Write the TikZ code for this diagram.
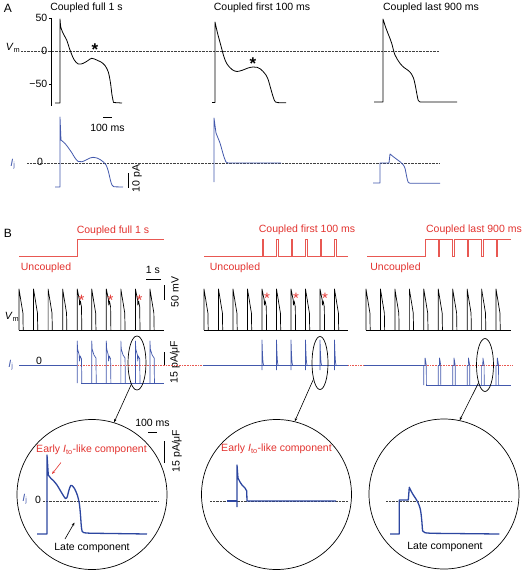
\documentclass[tikz,border=0pt]{standalone}
\usepackage{fontspec}
\setmainfont{Liberation Sans}
\usetikzlibrary{shapes.geometric,arrows.meta,calc}
\definecolor{myred}{RGB}{226,50,46}
\definecolor{stimred}{RGB}{232,88,82}
\definecolor{trblue}{RGB}{66,88,172}
\definecolor{cblue}{RGB}{44,70,160}
\tikzset{
 lbl/.style={font=\fontsize{10.5}{12}\selectfont, inner sep=0pt},
 redlbl/.style={lbl, text=myred},
 trace/.style={line width=0.8pt, line join=round},
 btrace/.style={line width=0.7pt, line join=round},
 itrace/.style={line width=0.7pt, line join=round, draw=trblue},
 atrace/.style={line width=0.8pt, line join=round, draw=trblue},
 ctrace/.style={line width=1.3pt, line join=round, draw=cblue},
 zeroline/.style={line width=0.5pt, draw=black!75, dash pattern=on 0.7pt off 0.7pt},
 reddots/.style={line width=0.5pt, draw=stimred, dash pattern=on 0.7pt off 0.9pt},
 stim/.style={line width=0.7pt, draw=stimred},
 scalebar/.style={line width=0.9pt},
 zoomcircle/.style={circle, draw, line width=0.7pt, minimum size=150pt, inner sep=0pt},
 zoomell/.style={ellipse, draw, line width=0.7pt, inner sep=0pt},
 link/.style={line width=0.6pt, -{Stealth[length=3.5pt,width=2.6pt]}},
 redarrow/.style={line width=0.6pt, draw=myred, -{Stealth[length=3.5pt,width=2.6pt]}},
 blackarrow/.style={line width=0.6pt, -{Stealth[length=3.5pt,width=2.6pt]}},
 astar/.style={font=\fontsize{17}{17}\selectfont\bfseries, inner sep=0pt, anchor=base},
 rstar/.style={font=\fontsize{15}{15}\selectfont, inner sep=0pt, anchor=base, text=myred},
}
\newcommand\apPlain[1]{\draw[btrace] (#1,330) -- (#1,289) -- ({#1+0.3},291) -- ({#1+3.9},313) -- ({#1+4.2},330);}
\newcommand\apNotch[1]{\draw[btrace] (#1,330) -- (#1,289) -- ({#1+2.2},300) -- ({#1+2.4},305) -- ({#1+3.2},301) -- ({#1+4.3},307) -- ({#1+4.6},330);}
\newcommand\ijFull[1]{\draw[itrace] (#1,383) -- (#1,341) -- ({#1+0.4},349) -- ({#1+2.2},355) -- ({#1+4.2},358) -- ({#1+4.5},383);}
\newcommand\ijFullNotch[1]{\draw[itrace] (#1,383) -- (#1,341) -- ({#1+0.4},349) -- ({#1+2},355) -- ({#1+2.3},361) -- ({#1+3},356) -- ({#1+4.3},359) -- ({#1+4.6},383);}
\newcommand\ijFirst[1]{\draw[itrace] (#1,370) -- (#1,340) -- ({#1+0.5},354) -- ({#1+1},362) -- ({#1+1.6},365.5);}
\newcommand\ijLast[1]{\draw[itrace] (#1,385) -- (#1,365.5) -- ({#1+1.2},365.5) -- ({#1+1.3},358) -- ({#1+2},362) -- ({#1+2.5},365.5) -- ({#1+2.6},385);}
\begin{document}
\begin{tikzpicture}[x=1pt,y=-1pt]
\useasboundingbox (0,0) rectangle (523,571);

% ---------------- Panel A ----------------
\node[lbl, font=\fontsize{12}{14}\selectfont] (labA) at (8,8) {A};
\node[lbl] (tA1) at (86.5,7.5) {Coupled full 1 s};
\node[lbl] (tA2) at (262,7.5) {Coupled first 100 ms};
\node[lbl] (tA3) at (431,7.5) {Coupled last 900 ms};

% axis
\draw[line width=0.6pt] (51,18) -- (51,106);
\foreach \yy in {18,51,84} \draw[line width=0.6pt] (49,\yy) -- (51,\yy);
\node[lbl, anchor=east] (y50) at (47.5,18) {50};
\node[lbl, anchor=east] (y0) at (47.5,51) {0};
\node[lbl, anchor=east] (ym50) at (47.5,84) {−50};
\node[lbl] (vmA) at (13,48) {\textit{V}\textsubscript{m}};
\node[lbl, text=trblue] (ijA) at (13,164) {\textit{I}\textsubscript{j}};
\node[lbl] (zA) at (40,162) {0};

\draw[zeroline] (21,51) -- (439,51);
\draw[zeroline] (27,163) -- (439,163);

% Vm traces A
\draw[trace] (55,103) -- (60,103) -- (60,19) -- plot[smooth, tension=0.55] coordinates {(60,19) (61,28) (64,35) (66.7,40) (70,50) (74,59.5) (78.3,64) (83.3,63.3) (88,60.5) (91.7,58.3) (96.7,60) (101,62) (105,65.5) (108.3,72) (110.5,83) (112,95) (113.5,102.5)} -- (122,103);
\draw[trace] (212,102.5) -- (215,102.5) -- (215,22) -- plot[smooth, tension=0.55] coordinates {(215,22) (217.5,33) (221,46) (224,57) (227,64) (232,69.5) (237,71.5) (243,70) (248,68) (253,67) (257,67.3) (260.5,69) (263.3,71.7) (266,75) (268.3,80) (270,86) (271.7,92) (273.5,98) (275.5,102) (280,102.7)} -- (286,102.7);
\draw[trace] (374,102) -- (383,102) -- (383,19) -- plot[smooth, tension=0.55] coordinates {(383,19) (386,28.3) (389,36) (391.7,43.3) (395,55) (400,63.3) (404,67.5) (408.3,70.5) (411.5,74) (413.5,78) (415.2,85) (416.7,93) (418.3,100.5) (420.5,102)} -- (457,102);

\node[astar] (sA1) at (95,55.5) {*};
\node[astar] (sA2) at (253,69.5) {*};

% Ij traces A
\draw[atrace] (55,187) -- (60,187) -- (60,117) -- (61,140) -- plot[smooth, tension=0.55] coordinates {(61,140) (65,143.5) (68.5,148) (72,153) (75,158) (78.3,161.5) (82,161.7) (86,160) (90,158) (93,157.3) (97,158) (100.5,159.8) (103.5,162) (105.7,164.5) (107.5,168.5) (109,174) (110.5,180.5) (112,185) (114,186.8)} -- (123,187);
\draw[atrace] (214,182) -- (214,118) -- (216,133) -- plot[smooth, tension=0.5] coordinates {(216,133) (218,138) (220,143) (222,150) (224,157) (226,162)} -- (228,163) -- (281,163);
\draw[atrace] (373,183) -- (380,183) -- (380,163) -- (389,163) -- (390,154) -- plot[smooth, tension=0.5] coordinates {(390,154) (395,158) (400,161.7) (403,164.5) (405,168.3) (406.7,176.7) (408.3,182.5) (411,183.2)} -- (440,183.3);

% scale bars A
\draw[scalebar] (103,117) -- (112,117);
\node[lbl] (sb100A) at (107.5,128) {100 ms};
\draw[scalebar] (128,173) -- (128,188);
\node[lbl, rotate=90] (sb10pA) at (137,178.5) {10 pA};

% ---------------- Panel B ----------------
\node[lbl, font=\fontsize{12}{14}\selectfont] (labB) at (8,233) {B};

% stimulus lines
\draw[stim] (19,256) -- (77.2,256) -- (77.2,239) -- (164,239);
\draw[stim] (204,256) \foreach \t in {262,276.5,291,305.5,320,334.5} { -- (\t,256) -- (\t,239) -- ({\t+1.4},239) -- ({\t+1.4},256) } -- (348,256);
\draw[stim] (367,256) -- (425.2,256) -- (425.2,239) \foreach \t in {438.25,452.7,467.15,481.6,496.05} { -- (\t,239) -- (\t,256) -- ({\t+1.4},256) -- ({\t+1.4},239) } -- (511,239);

\node[redlbl] (tB1) at (113,231) {Coupled full 1 s};
\node[redlbl] (tB2) at (307,230) {Coupled first 100 ms};
\node[redlbl] (tB3) at (474,230) {Coupled last 900 ms};
\node[redlbl] (uB1) at (46,268) {Uncoupled};
\node[redlbl] (uB2) at (235,268) {Uncoupled};
\node[redlbl] (uB3) at (395.5,268) {Uncoupled};

% labels
\node[lbl] (vmB) at (12,317) {\textit{V}\textsubscript{m}};
\node[lbl, text=trblue] (ijB) at (11,365) {\textit{I}\textsubscript{j}};
\node[lbl] (zB) at (39,361) {0};

% scale bars B
\draw[scalebar] (146,279) -- (160.5,279);
\node[lbl] (sb1s) at (153,270) {1 s};
\draw[scalebar] (164,285) -- (164,300);
\node[lbl, rotate=90] (sb50) at (175,292) {50 mV};
\draw[scalebar] (164,352) -- (164,366);
\node[lbl, rotate=90] (sb15) at (175,362) {15 pA/μF};

% red zero dotted line
\draw[reddots] (78,365.5) -- (512,365.5);

% Vm traces B
\draw[btrace] (19,330) -- (164,330);
\draw[btrace] (204,330) -- (348,330);
\draw[btrace] (366,330) -- (511,330);
\foreach \t in {19,33.55,48.1,62.65,91.75,120.85,149.95} {\apPlain{\t}}
\foreach \t in {77.2,106.3,135.4} {\apNotch{\t}}
\foreach \t in {204,218.5,233,247.5,276.5,305.5,334.5} {\apPlain{\t}}
\foreach \t in {262,291,320} {\apNotch{\t}}
\foreach \t in {366,380.45,394.9,409.35,423.8,438.25,452.7,467.15,481.6,496.05} {\apPlain{\t}}

\node[rstar] (rs1) at (81.5,305.3) {*};
\node[rstar] (rs2) at (110.5,305.3) {*};
\node[rstar] (rs3) at (139.5,305.3) {*};
\node[rstar] (rs4) at (267,303.5) {*};
\node[rstar] (rs5) at (296,303.5) {*};
\node[rstar] (rs6) at (325,303.5) {*};

% Ij traces B
\draw[itrace] (19,365.5) -- (77.2,365.5);
\draw[itrace] (81,383) -- (164,383);
\foreach \t in {91.75,120.85,149.95} {\ijFull{\t}}
\foreach \t in {77.2,106.3,135.4} {\ijFullNotch{\t}}
\draw[itrace] (203,365.5) -- (348,365.5);
\foreach \t in {262,276.5,291,305.5,320,334.5} {\ijFirst{\t}}
\draw[itrace] (364,365.5) -- (423.8,365.5);
\draw[itrace] (426,385) -- (511,385);
\foreach \t in {423.8,438.25,452.7,467.15,481.6,496.05} {\ijLast{\t}}

% ellipses, circles, links
\node[zoomell, minimum width=18pt, minimum height=54pt] (e1) at (137,363) {};
\node[zoomell, minimum width=16pt, minimum height=53pt] (e2) at (320,363) {};
\node[zoomell, minimum width=17pt, minimum height=53pt] (e3) at (485,365) {};
\node[zoomcircle] (c1) at (92,494.5) {};
\node[zoomcircle] (c2) at (276.5,494.5) {};
\node[zoomcircle] (c3) at (444,494) {};
\draw[link] (e1.255) -- (c1.73);
\draw[link] (e2.248) -- (c2.76);
\draw[link] (e3.250) -- (c3.78);

% scale bars near circle 1
\node[lbl] (sb100C) at (152.5,423) {100 ms};
\draw[scalebar] (148,432) -- (157,432);
\draw[scalebar] (164,441) -- (164,463);
\node[lbl, rotate=90] (sb15C) at (177,451) {15 pA/μF};

% circle 1 contents
\node[redlbl] (early1) at (91.5,450) {Early \textit{I}\textsubscript{to}-like component};
\coordinate (eTip1) at (52,474);
\coordinate (eTail1) at (61,462.5);
\draw[redarrow] (eTail1) -- (eTip1);
\node[lbl, text=trblue] (ijC) at (25,499) {\textit{I}\textsubscript{j}};
\node[lbl] (zC) at (38,500) {0};
\draw[zeroline] (43,501) -- (159,501);
\draw[ctrace] (37,534) -- (47,534) -- (47,455) -- (48.3,475) -- plot[smooth, tension=0.5] coordinates {(48.3,475) (51,478.5) (53.3,480.5) (57,485) (60,490) (63,495) (65.5,498.5) (67.2,497) (68.7,491) (70.7,485.5) (72.7,486.2) (74.5,488.5) (77.3,495) (79.3,503.3) (80.5,515) (81.3,526) (82.2,531.5) (84,532.7) (90,533.2)} -- (147,534);
\node[lbl] (late1) at (92,548) {Late component};
\coordinate (lTip1) at (74.5,522.5);
\coordinate (lTail1) at (65,539);
\draw[blackarrow] (lTail1) -- (lTip1);

% circle 2 contents
\node[redlbl] (early2) at (276.5,449) {Early \textit{I}\textsubscript{to}-like component};
\draw[zeroline] (210,501) -- (348,501);
\draw[ctrace] (227,501) -- (237,501);
\draw[ctrace] (237,507) -- (237,465) -- (238,478) -- (240,482) -- (242,485) -- (245,488) -- (246.7,491) -- (247,501) -- (336,501);

% circle 3 contents
\draw[zeroline] (386,501) -- (512,501);
\draw[ctrace] (390,534) -- (399.3,534) -- (399.3,500) -- (408.3,500) -- (409.3,487.3) -- plot[smooth, tension=0.5] coordinates {(409.3,487.3) (411.3,491.5) (413.3,495) (416,499) (418.3,503.3) (420,508) (421,513.3) (422,523) (422.7,531) (425,532.7) (432,533.3)} -- (499.3,534);
\node[lbl] (late3) at (445,547) {Late component};
\end{tikzpicture}
\end{document}
